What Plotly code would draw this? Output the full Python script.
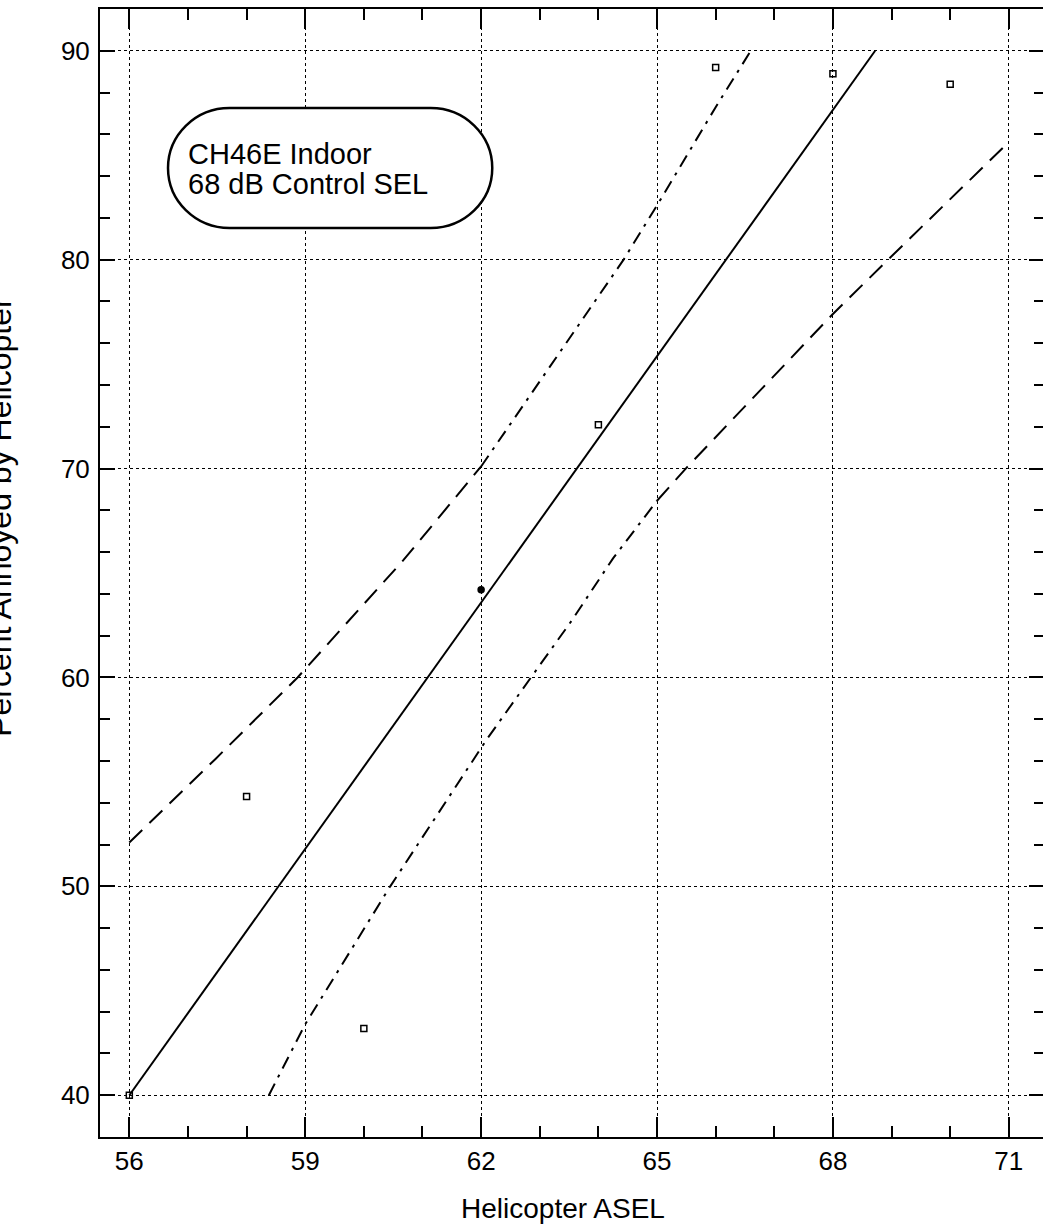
import plotly.graph_objects as go

# ---- data ----
asel = [56, 58, 60, 62, 64, 66, 68, 70]
pct_annoyed = [40.0, 54.3, 43.2, 64.2, 72.1, 89.2, 88.9, 88.4]
point_symbols = ["square-open", "square-open", "square-open", "circle",
                 "square-open", "square-open", "square-open", "square-open"]

fit_x = [56.0, 68.72]
fit_y = [40.0, 90.0]

upper_x_a = [56.0, 57.47, 58.87, 60.67, 62.0]
upper_y_a = [52.1, 56.1, 60.0, 65.6, 70.1]
upper_x_b = [62.0, 63.38, 64.43, 65.0, 66.0, 66.6]
upper_y_b = [70.1, 75.7, 80.0, 82.6, 87.3, 90.0]

lower_x_a = [58.38, 59.0, 60.45, 62.1, 62.85, 63.54, 64.25, 65.0]
lower_y_a = [40.0, 43.4, 50.0, 57.05, 60.0, 62.7, 65.7, 68.46]
lower_x_b = [65.0, 65.49, 68.0, 68.94, 71.0]
lower_y_b = [68.46, 70.0, 77.4, 80.0, 85.63]

x_ticks = [56, 59, 62, 65, 68, 71]
y_ticks = [40, 50, 60, 70, 80, 90]

FONT = "Liberation Sans, Arial, Helvetica, sans-serif"
LONGDASH = "18px,10px"
DASHDOT = "13px,7px,3px,7px"

fig = go.Figure()

fig.add_trace(go.Scatter(x=fit_x, y=fit_y, mode="lines",
                         line=dict(color="black", width=2), showlegend=False))
fig.add_trace(go.Scatter(x=upper_x_a, y=upper_y_a, mode="lines",
                         line=dict(color="black", width=2, dash=LONGDASH), showlegend=False))
fig.add_trace(go.Scatter(x=upper_x_b, y=upper_y_b, mode="lines",
                         line=dict(color="black", width=2, dash=DASHDOT), showlegend=False))
fig.add_trace(go.Scatter(x=lower_x_a, y=lower_y_a, mode="lines",
                         line=dict(color="black", width=2, dash=DASHDOT), showlegend=False))
fig.add_trace(go.Scatter(x=lower_x_b, y=lower_y_b, mode="lines",
                         line=dict(color="black", width=2, dash=LONGDASH), showlegend=False))
fig.add_trace(go.Scatter(x=asel, y=pct_annoyed, mode="markers",
                         marker=dict(symbol=point_symbols, size=6, color="black",
                                     line=dict(color="black", width=1.5)),
                         showlegend=False))

# rounded (stadium) label box
x0, x1 = 56.66, 62.19
y0, y1 = 81.52, 87.26
rx = 1.05
cy = (y0 + y1) / 2
ry = (y1 - y0) / 2
k = 0.5523
lx = x0 + rx
rxc = x1 - rx
path = (f"M {lx},{y1} "
        f"C {lx - k*rx},{y1} {x0},{cy + k*ry} {x0},{cy} "
        f"C {x0},{cy - k*ry} {lx - k*rx},{y0} {lx},{y0} "
        f"L {rxc},{y0} "
        f"C {rxc + k*rx},{y0} {x1},{cy - k*ry} {x1},{cy} "
        f"C {x1},{cy + k*ry} {rxc + k*rx},{y1} {rxc},{y1} Z")
fig.add_shape(type="path", path=path, xref="x", yref="y",
              line=dict(color="black", width=2.5), fillcolor="white", layer="above")

fig.add_annotation(text="CH46E Indoor", x=56.97, y=85.05, xref="x", yref="y",
                   xanchor="left", yanchor="middle", showarrow=False,
                   font=dict(family=FONT, size=29, color="black"))
fig.add_annotation(text="68 dB Control SEL", x=56.97, y=83.6, xref="x", yref="y",
                   xanchor="left", yanchor="middle", showarrow=False,
                   font=dict(family=FONT, size=29, color="black"))

# axis titles
fig.add_annotation(text="Helicopter ASEL", x=63.4, y=-0.0638, xref="x", yref="paper",
                   xanchor="center", yanchor="middle", showarrow=False,
                   font=dict(family=FONT, size=28, color="black"))
fig.add_annotation(text="Percent Annoyed by Helicopter", x=-0.0856, y=67.7,
                   xref="paper", yref="y", xanchor="right", yanchor="middle",
                   textangle=-90, showarrow=False,
                   font=dict(family=FONT, size=32, color="black"))

axis_common = dict(showline=True, linewidth=2, linecolor="black", mirror="ticks",
                   ticks="inside", tickwidth=2, tickcolor="black",
                   showgrid=True, gridcolor="black", gridwidth=1, griddash="dot",
                   zeroline=False, tickfont=dict(family=FONT, size=26, color="black"))

fig.update_xaxes(range=[55.5, 71.6], tickmode="array", tickvals=x_ticks,
                 ticktext=[str(v) for v in x_ticks], ticklen=20, ticklabelstandoff=0,
                 minor=dict(dtick=1, tick0=56, ticks="inside", ticklen=11,
                            tickwidth=2, tickcolor="black", showgrid=False),
                 **axis_common)
fig.update_yaxes(range=[38, 92], tickmode="array", tickvals=y_ticks,
                 ticktext=[str(v) for v in y_ticks], ticklen=15, ticklabelstandoff=3,
                 minor=dict(dtick=2, tick0=40, ticks="inside", ticklen=10,
                            tickwidth=2, tickcolor="black", showgrid=False),
                 **axis_common)

fig.update_layout(width=1046, height=1231,
                  margin=dict(l=100, r=0, t=9, b=94),
                  paper_bgcolor="white", plot_bgcolor="white",
                  showlegend=False)

fig.write_html("out.html",
               config={"displayModeBar": False},
               post_script="document.body.style.margin='0px';"
                           "document.body.style.overflow='hidden';")
